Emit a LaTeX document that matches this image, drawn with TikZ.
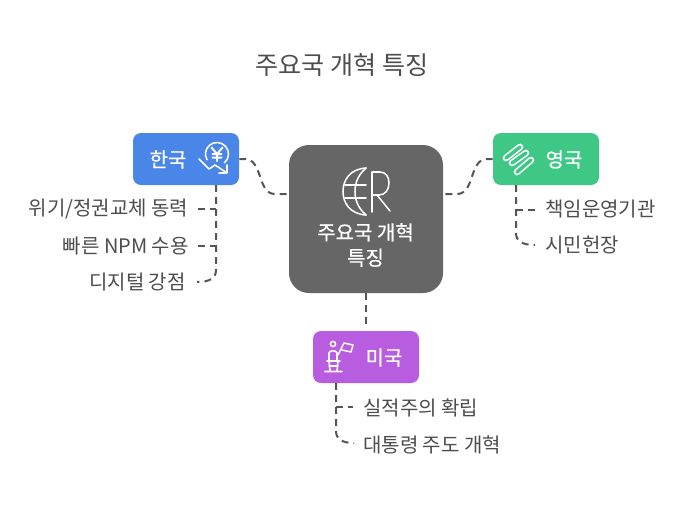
\documentclass[tikz,border=0pt]{standalone}
\usepackage{fontspec}
\setmainfont{Noto Sans CJK KR}
\definecolor{cred}{HTML}{4A86E8}
\definecolor{cgreen}{HTML}{3EC785}
\definecolor{cpurple}{HTML}{B85CE0}
\definecolor{cgray}{HTML}{666666}
\definecolor{ctext}{HTML}{4D4D4D}
\definecolor{cline}{HTML}{555555}
\newcommand{\wfont}{\addfontfeatures{FakeBold=0.6}}
\tikzset{
  topicbox/.style={draw=none,rounded corners=6pt,minimum width=79.5pt,minimum height=39pt,inner sep=0pt},
  toplabel/.style={inner sep=0pt,text=white,font=\fontsize{15}{18}\selectfont\wfont},
  leaf/.style={text=ctext,inner sep=0pt,font=\fontsize{15}{18}\selectfont},
  conn/.style={draw=cline,line width=1.5pt,dash pattern=on 5.2pt off 3.8pt},
  ico/.style={draw=white,line width=1.15pt,line cap=round,line join=round}
}
\begin{document}
\begin{tikzpicture}[x=0.75pt,y=-0.75pt]
\useasboundingbox (0,0) rectangle (684,504);
\fill[white] (0,0) rectangle (684,504);
\node[text=ctext,font=\fontsize{18.8}{22}\selectfont] (title) at (341.8,65.5) {주요국 개혁 특징};
\node[fill=cgray,rounded corners=15pt,minimum width=115.5pt,minimum height=111pt,inner sep=0pt] (hub) at (366,219) {};
\node[topicbox,fill=cred] (kr) at (186,159) {};
\node[topicbox,fill=cgreen] (uk) at (546,159) {};
\node[topicbox,fill=cpurple] (us) at (366,357) {};
\node[toplabel] (krt) at (168,159.5) {한국};
\node[toplabel] (ukt) at (564,159.5) {영국};
\node[toplabel] (ust) at (384,357.5) {미국};
\node[align=center,text=white,inner sep=0pt,font=\fontsize{15}{19}\selectfont\wfont] (hubt) at (365.5,245) {주요국 개혁\\특징};
\node[leaf,anchor=east] (k1) at (188.5,209.5) {위기/정권교체 동력};
\node[leaf,anchor=east] (k2) at (189,246.5) {빠른 NPM 수용};
\node[leaf,anchor=east] (k3) at (186,282.5) {디지털 강점};
\node[leaf,anchor=west] (u1) at (545,209.5) {책임운영기관};
\node[leaf,anchor=west] (u2) at (545,245.5) {시민헌장};
\node[leaf,anchor=west] (a1) at (363,407.5) {실적주의 확립};
\node[leaf,anchor=west] (a2) at (363,444.5) {대통령 주도 개혁};
\coordinate (hl) at (289,194);
\coordinate (hr) at (443,194);
\coordinate (kb) at (216,185);
\coordinate (ub) at (516,185);
\coordinate (ab) at (336,383);
\draw[conn] (kr.east) -- (245,159) .. controls (263,159) and (257,194) .. (275,194) -- (hl);
\draw[conn] (uk.west) -- (487,159) .. controls (469,159) and (475,194) .. (457,194) -- (hr);
\draw[conn,shorten >=5pt] (hub.south) -- (us.north);
\draw[conn] (kb) -- (216,270) .. controls (216,278) and (210,282) .. (197,282);
\draw[conn] (198,209) -- (216,209);
\draw[conn] (198,246) -- (216,246);
\draw[conn] (ub) -- (516,233) .. controls (516,241) and (522,245) .. (535,245);
\draw[conn] (516,210) -- (535,210);
\draw[conn] (ab) -- (336,431) .. controls (336,439) and (342,443) .. (354,443);
\draw[conn] (336,407) -- (353,407);
% yen icon
\draw[ico] (217,154) ++(50:11.5) arc[start angle=50,end angle=-210,radius=11.5];
\draw[ico,line width=1.5pt] (211.5,147.5) -- (217,154) -- (222.5,147.5) (217,154) -- (217,161) (212.5,154) -- (221.5,154) (212.5,157.5) -- (221.5,157.5);
\draw[ico] (199,159) -- (209,169) -- (215,165) -- (227,173) (227,165) -- (227,173) -- (219,173);
% globe R icon
\draw[ico] (366,168) .. controls (350,169) and (343,180) .. (343,191.5) .. controls (343,203) and (350,214) .. (366,215);
\draw[ico] (366,168) .. controls (358,175) and (355,183) .. (355,191.5) .. controls (355,200) and (358,208) .. (366,215);
\draw[ico] (345,185) -- (366,185) (345,198) -- (366,198);
\draw[ico] (372,212) -- (372,172) -- (380,172) .. controls (386,172) and (389,177) .. (389,183) .. controls (389,190) and (385,195) .. (379,195) -- (372,195) (377,195) -- (390,211);
% ribbons icon
\foreach \ax/\ay/\bx/\by in {506/158/520/147,512/163/526/153,517/172/531/160}{
  \draw[white,line width=5pt,line cap=round] (\ax,\ay) -- (\bx,\by);
  \draw[cgreen,line width=2.6pt,line cap=round] (\ax,\ay) -- (\bx,\by);
}
% statue icon
\draw[ico] (333,344) circle[radius=2.6];
\draw[ico] (329,361) -- (329,353) .. controls (329,350) and (337,350) .. (337,353) -- (337,361);
\draw[ico] (327,361) -- (340,361) (329,361) -- (330,371) (338,361) -- (337,371) (329,366) -- (338,366) (325,371.5) -- (342,371.5);
\draw[ico] (338,355) -- (344,343) -- (353,345) -- (351,352) -- (342,350);
\end{tikzpicture}
\end{document}
